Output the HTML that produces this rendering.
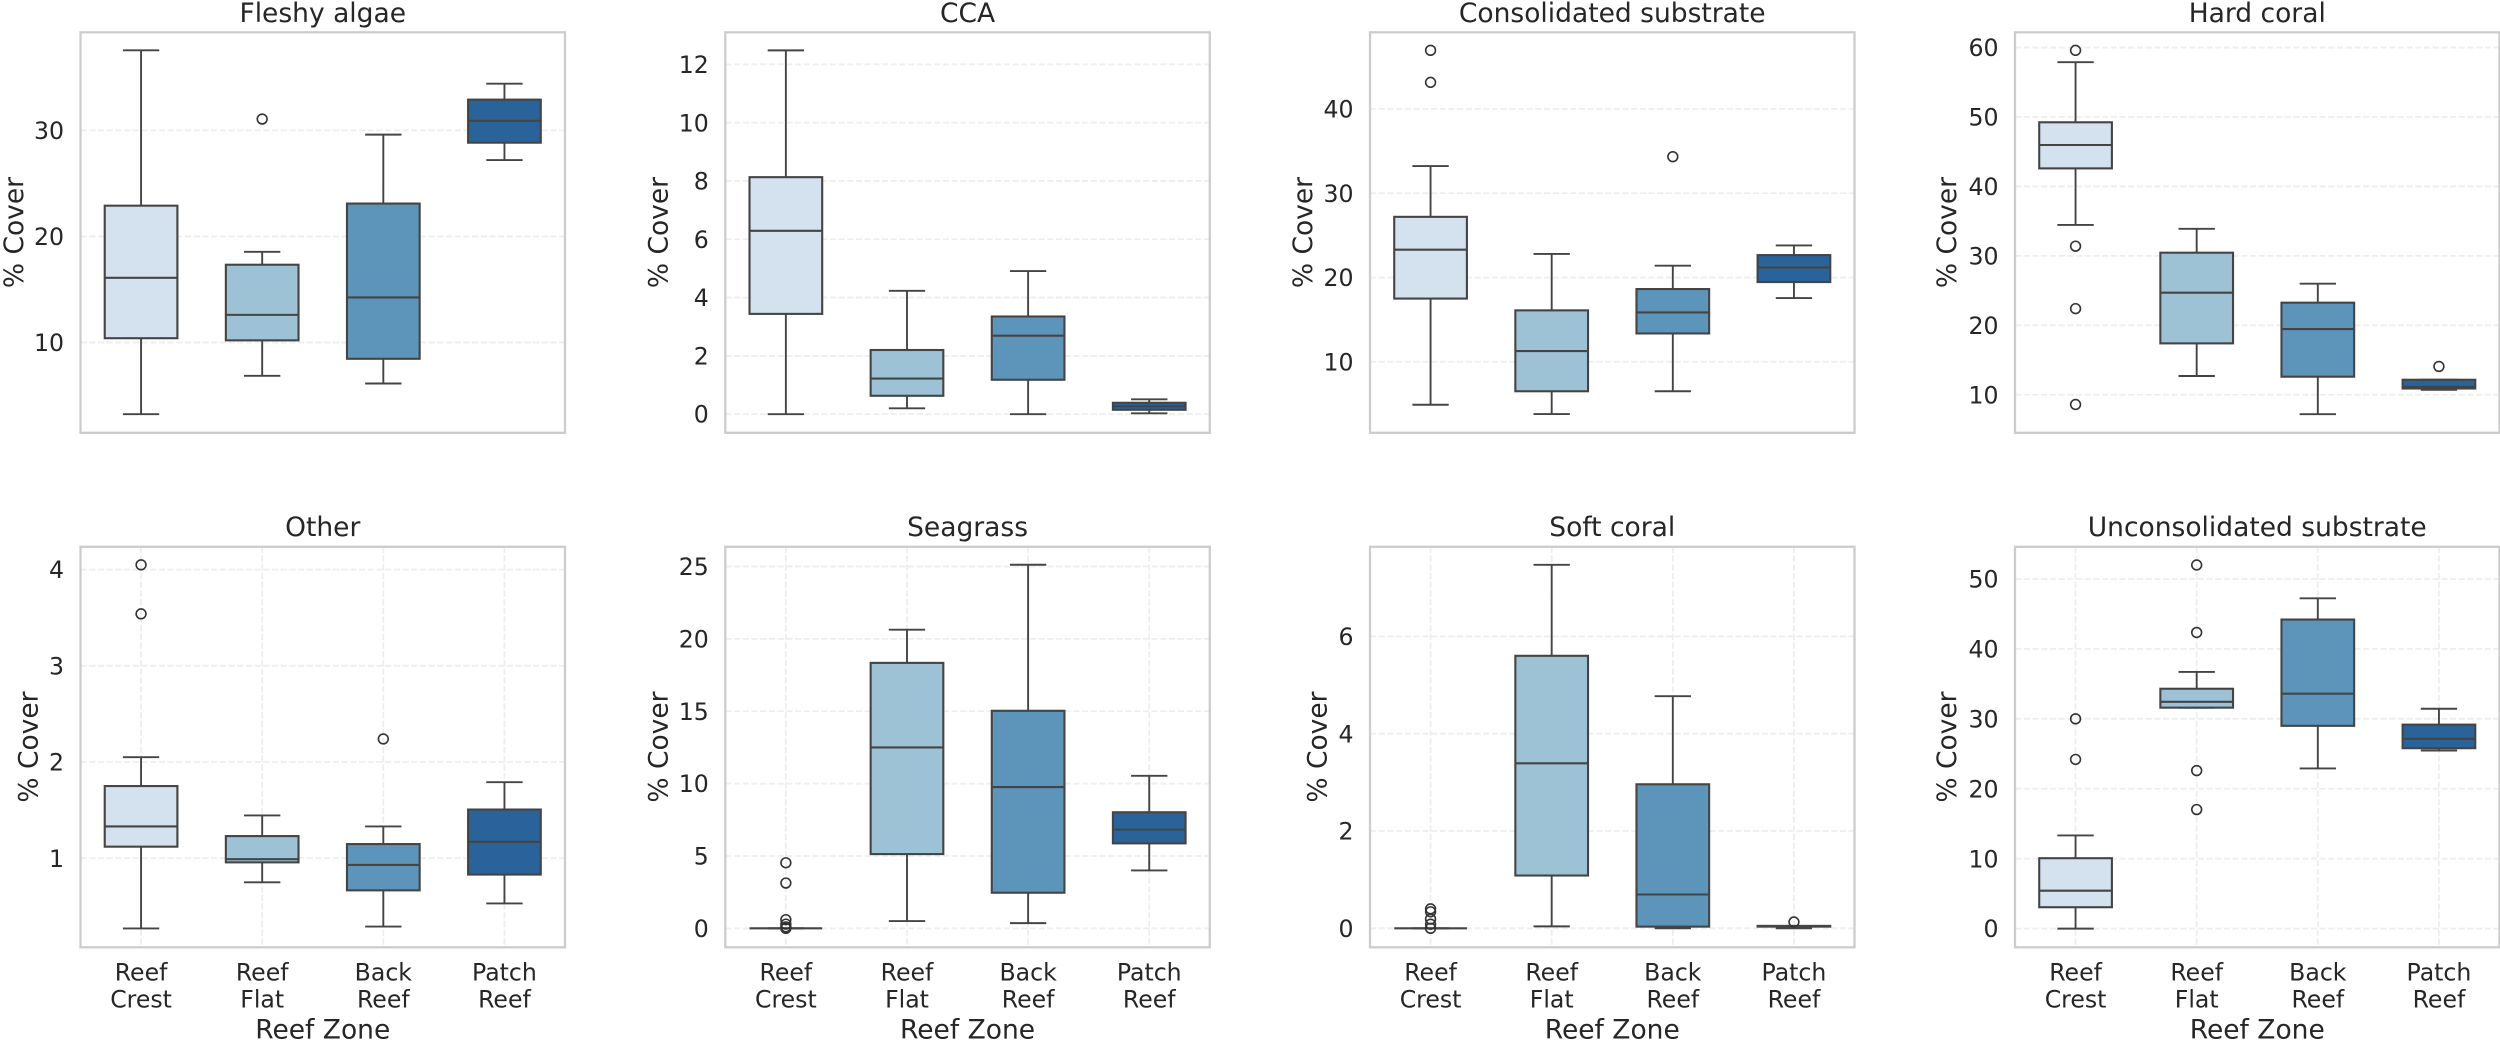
<!DOCTYPE html>
<html lang="en">
<head>
<meta charset="utf-8">
<title>Benthic cover by reef zone</title>
<style>
html,body{margin:0;padding:0;background:#fff;}
svg{display:block;}
text{font-family:"DejaVu Sans","Liberation Sans",sans-serif;fill:#262626;}
</style>
</head>
<body>
<svg id="chart" xmlns="http://www.w3.org/2000/svg" width="2500" height="1042" viewBox="0 0 2500 1042"></svg>
<script>
// ---- chart data (one entry per panel, each inner array per reef zone) ----
const panelTitles = ["Fleshy algae","CCA","Consolidated substrate","Hard coral","Other","Seagrass","Soft coral","Unconsolidated substrate"];
const zoneLabels = ["Reef Crest","Reef Flat","Back Reef","Patch Reef"];
const zoneColors = ["#d4e2ef","#9dc2d6","#5d94ba","#2a6399"];
const yTickLabels = [
  [10,20,30],
  [0,2,4,6,8,10,12],
  [10,20,30,40],
  [10,20,30,40,50,60],
  [1,2,3,4],
  [0,5,10,15,20,25],
  [0,2,4,6],
  [0,10,20,30,40,50]
];
const yLimitLow = [1.48,-0.64,1.57,4.52,0.074,-1.31,-0.39,-2.67];
const yLimitHigh = [39.25,13.1,49.1,62.2,4.237,26.36,7.84,54.6];
const whiskerHigh = [
  [37.55,18.55,29.6,34.4],
  [12.48,4.23,4.91,0.51],
  [33.23,22.8,21.4,23.8],
  [57.9,33.9,26,12.16],
  [2.05,1.445,1.33,1.79],
  [0,20.63,25.12,10.54],
  [0,7.47,4.77,0.05],
  [13.33,36.7,47.24,31.44]
];
const quartile3 = [
  [22.9,17.33,23.1,32.9],
  [8.13,2.2,3.35,0.39],
  [27.2,16.1,18.63,22.66],
  [49.24,30.46,23.26,12.16],
  [1.75,1.23,1.147,1.506],
  [0,18.34,15.03,8.02],
  [0,5.6,2.96,0.05],
  [10.07,34.3,44.2,29.17]
];
const medians = [
  [16.1,12.6,14.25,30.9],
  [6.29,1.22,2.69,0.27],
  [23.3,11.27,15.86,21.2],
  [45.97,24.7,19.46,11.15],
  [1.33,0.99,0.93,1.17],
  [0,12.5,9.76,6.82],
  [0,3.39,0.695,0.043],
  [5.43,32.43,33.6,27.15]
];
const quartile1 = [
  [10.4,10.2,8.46,28.84],
  [3.44,0.63,1.18,0.15],
  [17.5,6.5,13.36,19.46],
  [42.6,17.4,12.6,10.9],
  [1.12,0.957,0.666,0.83],
  [0,5.13,2.46,5.87],
  [0,1.085,0.035,0.035],
  [3.06,31.6,29,25.8]
];
const whiskerLow = [
  [3.24,6.85,6.13,27.2],
  [0,0.2,0,0.03],
  [4.9,3.79,6.5,17.56],
  [34.45,12.7,7.2,10.72],
  [0.27,0.75,0.29,0.53],
  [0,0.5,0.36,4],
  [0,0.04,0,0],
  [0,31.6,22.9,25.47]
];
const outliers = [
  [[],[31.07],[],[]],
  [[],[],[],[]],
  [[46.96,43.16],[],[34.34],[]],
  [[59.6,31.4,22.4,8.6],[],[],[14.08]],
  [[4.05,3.54],[],[2.24],[]],
  [[4.53,3.13,0.6,0.29,0.1,0],[],[],[]],
  [[0.4,0.34,0.19,0.085,0],[],[],[0.13]],
  [[30,24.2],[52,42.35,22.6,17.03],[],[]]
];

// ---- layout ----
const panelLefts = [80.5,725.3,1370,2015];
const panelTops = [32.3,546.8];
const panelWidth = 484.5;
const panelHeight = 400.5;
const yLabelBaselines = [23,667.5,1312,1956,37.7,667.5,1326.5,1956];
const svg = document.getElementById('chart');
const NS = 'http://www.w3.org/2000/svg';

function make(parent, tag, attrs, txt){
  const node = document.createElementNS(NS, tag);
  for (const k in attrs) node.setAttribute(k, attrs[k]);
  if (txt !== undefined) node.textContent = txt;
  parent.appendChild(node);
  return node;
}
const LINE = '#444444';
const TICK_FONT = 23.6;
const WHISKER_W = 1.9;
const BOX_W = 2.1;

panelTitles.forEach(function(title, p){
  const row = p < 4 ? 0 : 1;
  const left = panelLefts[p % 4];
  const top = panelTops[row];
  const xScale = function(pos){ return left + (pos + 0.5) / 4 * panelWidth; };
  const yScale = function(v){ return top + (yLimitHigh[p] - v) / (yLimitHigh[p] - yLimitLow[p]) * panelHeight; };
  const band = panelWidth / 4;

  const g = make(svg, 'g', {});
  
  

  const bg = make(g, 'rect', {x:left, y:top, width:panelWidth, height:panelHeight, fill:'#fff'});
  
  

  yTickLabels[p].forEach(function(t){
    const gl = make(g, 'line', {x1:left, x2:left+panelWidth, y1:yScale(t), y2:yScale(t), stroke:'#eeeeee', 'stroke-width':1.8, 'stroke-dasharray':'6.3 2.4'});
    
    
    const tl = make(g, 'text', {x:left-16.5, y:yScale(t)+8.6, 'text-anchor':'end', 'font-size':TICK_FONT}, String(t));
    
    
  });

  zoneLabels.forEach(function(zone, z){
    const cx = xScale(z);
    if (row === 1) {
      const vg = make(g, 'line', {x1:cx, x2:cx, y1:top, y2:top+panelHeight, stroke:'#eeeeee', 'stroke-width':1.8, 'stroke-dasharray':'6.3 2.4'});
      
      
      const parts = zone.split(' ');
      const l1 = make(g, 'text', {x:cx, y:980.7, 'text-anchor':'middle', 'font-size':TICK_FONT}, parts[0]);
      
      
      const l2 = make(g, 'text', {x:cx, y:1007.3, 'text-anchor':'middle', 'font-size':TICK_FONT}, parts[1]);
      
      
    }
  });

  zoneLabels.forEach(function(zone, z){
    const cx = xScale(z);
    const boxW = band * 0.6;
    const capW = band * 0.3;
    const bx = make(g, 'g', {});
    
    

    const wu = make(bx, 'line', {x1:cx, x2:cx, y1:yScale(quartile3[p][z]), y2:yScale(whiskerHigh[p][z]), stroke:LINE, 'stroke-width':WHISKER_W});
    
    
    const wl = make(bx, 'line', {x1:cx, x2:cx, y1:yScale(quartile1[p][z]), y2:yScale(whiskerLow[p][z]), stroke:LINE, 'stroke-width':WHISKER_W});
    
    
    const cu = make(bx, 'line', {x1:cx-capW/2, x2:cx+capW/2, y1:yScale(whiskerHigh[p][z]), y2:yScale(whiskerHigh[p][z]), stroke:LINE, 'stroke-width':WHISKER_W});
    
    
    const cl = make(bx, 'line', {x1:cx-capW/2, x2:cx+capW/2, y1:yScale(whiskerLow[p][z]), y2:yScale(whiskerLow[p][z]), stroke:LINE, 'stroke-width':WHISKER_W});
    
    

    const yTop = yScale(quartile3[p][z]);
    const yBot = yScale(quartile1[p][z]);
    const body = make(bx, 'rect', {x:cx-boxW/2, y:yTop, width:boxW, height:Math.max(yBot-yTop,0), fill:zoneColors[z], stroke:LINE, 'stroke-width':BOX_W});
    
    

    const med = make(bx, 'line', {x1:cx-boxW/2, x2:cx+boxW/2, y1:yScale(medians[p][z]), y2:yScale(medians[p][z]), stroke:LINE, 'stroke-width':BOX_W});
    
    

    outliers[p][z].forEach(function(v){
      const c = make(bx, 'circle', {cx:cx, cy:yScale(v), r:4.9, fill:'none', stroke:'#333333', 'stroke-width':1.6});
      
      
    });
  });

  const frame = make(g, 'rect', {x:left, y:top, width:panelWidth, height:panelHeight, fill:'none', stroke:'#cccccc', 'stroke-width':2.3});
  
  

  const tt = make(g, 'text', {x:left+panelWidth/2, y:row===0?22:536, 'text-anchor':'middle', 'font-size':26.5}, title);
  
  

  const yCenter = top + panelHeight/2;
  const yl = make(g, 'text', {x:0, y:0, 'text-anchor':'middle', 'font-size':26.5, transform:'translate('+yLabelBaselines[p]+','+yCenter+') rotate(-90)'}, '% Cover');
  
  

  if (row === 1) {
    const xl = make(g, 'text', {x:left+panelWidth/2, y:1038.5, 'text-anchor':'middle', 'font-size':26.5}, 'Reef Zone');
    
    
  }
});
</script>
</body>
</html>
